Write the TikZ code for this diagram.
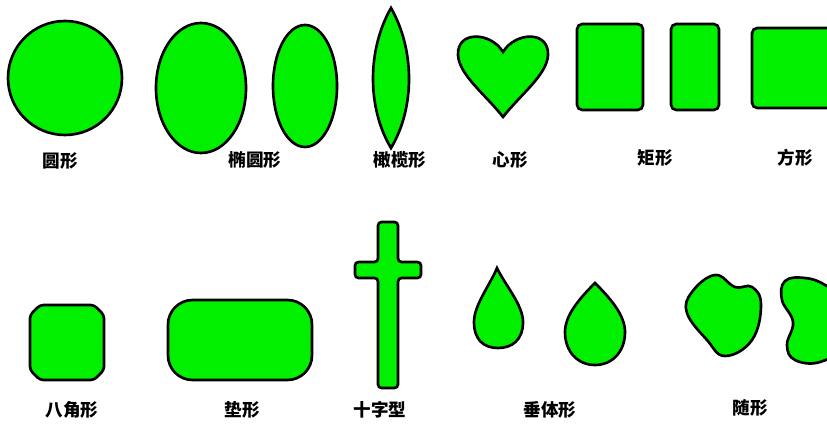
\documentclass[tikz,border=0pt]{standalone}
\usepackage{fontspec}
\newfontfamily\cjk{Noto Sans CJK SC}
\definecolor{gemgreen}{RGB}{0,240,0}
\begin{document}
\begin{tikzpicture}[x=0.02cm, y=-0.02cm,
    gem/.style={fill=gemgreen, draw=black, line width=1.5pt},
    lbl/.style={font=\cjk\bfseries\fontsize{10}{10}\selectfont}]
    \useasboundingbox (0,0) rectangle (827,425);
    % 第一行
    \begin{scope}
        \draw[gem] (65,78) circle (57);
        \node[lbl] (yuan) at (60,161) {圆形};
        % 椭圆形
        \draw[gem] (201,88) ellipse (45 and 65);
        \draw[gem] (305,86) ellipse (32 and 61);
        \node[lbl] (tuoyuan) at (255,160) {椭圆形};
        % 橄榄形
        \draw[gem] (391,8) .. controls (415,50) and (415,108) .. (391,148)
            .. controls (367,108) and (367,50) .. (391,8) -- cycle;
        \node[lbl] (ganlan) at (400,160) {橄榄形};
        % 心形
        \draw[gem] (503,52) .. controls (515,32) and (549,30) .. (548,55)
            .. controls (547,75) and (520,95) .. (503,117)
            .. controls (486,95) and (459,75) .. (458,55)
            .. controls (457,30) and (491,32) .. (503,52) -- cycle;
        \node[lbl] (xin) at (510,160) {心形};
        % 矩形
        \draw[gem, rounded corners=3] (577,24) rectangle (643,110);
        \draw[gem, rounded corners=3] (671,24) rectangle (719,110);
        \node[lbl] (ju) at (655,158) {矩形};
        % 方形
        \draw[gem, rounded corners=3] (752,28) rectangle (840,108);
        \node[lbl] (fang) at (795,158) {方形};
    \end{scope}

    % 第二行
    \begin{scope}
        % 八角形
        \draw[gem, rounded corners=2] (40,305) -- (94,305) -- (104,315) -- (104,370)
            -- (94,380) -- (40,380) -- (30,370) -- (30,315) -- cycle;
        \node[lbl] (bajiao) at (72,410) {八角形};
        % 垫形
        \draw[gem, rounded corners=14] (168,300) rectangle (312,380);
        \node[lbl] (dian) at (242,410) {垫形};
        % 十字型
        \draw[gem, rounded corners=2] (378,222) -- (398,222) -- (398,262) -- (421,262)
            -- (421,278) -- (398,278) -- (398,388) -- (378,388) -- (378,278)
            -- (355,278) -- (355,262) -- (378,262) -- cycle;
        \node[lbl] (shizi) at (380,410) {十字型};
        % 垂体形
        \draw[gem] (497,268) .. controls (505,285) and (523,305) .. (523,322)
            .. controls (523,340) and (512,348) .. (498,348)
            .. controls (484,348) and (474,340) .. (474,322)
            .. controls (474,305) and (490,285) .. (497,268) -- cycle;
        \draw[gem] (595,283) .. controls (610,298) and (625,315) .. (625,332)
            .. controls (625,352) and (612,365) .. (595,365)
            .. controls (578,365) and (565,352) .. (565,332)
            .. controls (565,315) and (580,298) .. (595,283) -- cycle;
        \node[lbl] (chuiti) at (550,410) {垂体形};
        % 随形
        \draw[gem] plot[smooth cycle, tension=0.7] coordinates {(715,275) (735,287)
            (752,287) (761,305) (752,340) (725,356) (707,340) (687,313) (692,292)};
        \draw[gem] plot[smooth cycle, tension=0.7] coordinates {(785,281) (805,278)
            (825,285) (840,300) (840,345) (820,362) (795,360) (787,345) (793,322)
            (782,300)};
        \node[lbl] (sui) at (750,408) {随形};
    \end{scope}
\end{tikzpicture}
\end{document}
